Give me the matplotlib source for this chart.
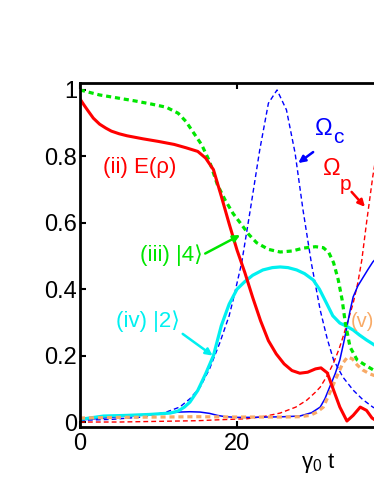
"""E(rho) and level populations with the Omega_c / Omega_p pulses"""
import matplotlib
matplotlib.use('Agg')
import matplotlib.pyplot as plt

plt.rcParams['font.family'] = ['Liberation Sans', 'DejaVu Sans']
plt.rcParams['mathtext.fontset'] = 'custom'
plt.rcParams['mathtext.rm'] = 'Liberation Sans'
plt.rcParams['mathtext.it'] = 'Liberation Sans'

RED = '#ff0000'
GREEN = '#00e600'
CYAN = '#00f0f0'
BLUE = '#0000ff'
ORANGE = '#f8aa66'

# (ii) entanglement E(rho), red solid
t_ent = [0, 0.5, 1, 1.7, 2.5, 3.3, 4, 5, 6, 8, 10, 12, 13.5, 15, 16, 17, 18, 19, 20, 21,
         22, 23, 24, 25, 26, 27, 28, 29, 30, 30.7, 31.5, 32.3, 33.1, 34, 34.8, 35.7, 36.5,
         37.2, 38]
ent = [0.973, 0.955, 0.938, 0.915, 0.897, 0.885, 0.876, 0.868, 0.862, 0.853, 0.845, 0.836,
       0.826, 0.815, 0.795, 0.76, 0.68, 0.597, 0.518, 0.45, 0.375, 0.305, 0.245, 0.205,
       0.175, 0.155, 0.147, 0.15, 0.16, 0.163, 0.148, 0.096, 0.045, 0.003, 0.02, 0.045,
       0.035, 0.012, 0.0]

# (iii) population |4>, green dotted
t_p4 = [0, 2.5, 5, 7, 9, 11, 12.5, 13.5, 14.5, 15.5, 16.5, 17.5, 18.5, 19.5, 20.5, 21.5,
        22.5, 24, 25.5, 27, 28.5, 30, 31, 31.7, 32.3, 32.9, 33.4, 33.8, 34.4, 35.3, 36.5,
        37.5, 38.5]
p4 = [1.0, 0.985, 0.975, 0.967, 0.958, 0.948, 0.93, 0.905, 0.87, 0.835, 0.785, 0.715,
      0.668, 0.628, 0.597, 0.565, 0.54, 0.52, 0.512, 0.515, 0.524, 0.528, 0.525, 0.51,
      0.48, 0.428, 0.367, 0.298, 0.226, 0.187, 0.169, 0.155, 0.15]

# (iv) population |2>, cyan solid
t_p2 = [0, 3, 6, 9, 11.5, 12.5, 13.3, 14, 15, 16, 17, 18, 19, 20, 21, 22, 23.3, 24.5,
        25.5, 26.5, 27.6, 28.6, 29.7, 30.5, 31.4, 32.2, 33.1, 34, 34.8, 35.6, 36.5, 37.5,
        38.5]
p2 = [0.008, 0.018, 0.02, 0.023, 0.027, 0.033, 0.045, 0.06, 0.095, 0.145, 0.2, 0.29,
      0.355, 0.4, 0.423, 0.442, 0.458, 0.465, 0.467, 0.465, 0.458, 0.447, 0.428, 0.4,
      0.358, 0.32, 0.298, 0.288, 0.277, 0.262, 0.247, 0.232, 0.22]

# (v) population, orange dotted
t_p3 = [0, 5, 10, 15, 20, 23, 26, 28, 29.3, 30.2, 31, 31.8, 32.7, 33.5, 34.1, 34.7, 35.3,
        36, 36.9, 37.5, 38.5]
p3 = [0.012, 0.014, 0.015, 0.016, 0.015, 0.015, 0.015, 0.016, 0.02, 0.03, 0.045, 0.087,
      0.136, 0.178, 0.196, 0.19, 0.172, 0.157, 0.145, 0.14, 0.135]

# blue solid population
t_p1 = [0, 3, 6, 9, 11, 12.7, 14, 15.3, 16.5, 17.5, 18.5, 20, 22, 24, 26, 28, 29.5, 30.6,
        31.2, 31.8, 32.5, 33.1, 33.6, 34, 34.4, 34.8, 35.4, 36.1, 36.7, 37.3, 38]
p1 = [0.006, 0.012, 0.018, 0.022, 0.027, 0.03, 0.031, 0.03, 0.026, 0.02, 0.016, 0.014,
      0.014, 0.015, 0.016, 0.018, 0.028, 0.045, 0.07, 0.105, 0.145, 0.187, 0.24, 0.286,
      0.335, 0.377, 0.41, 0.437, 0.46, 0.482, 0.5]

# coupling pulse Omega_c, blue dashed
t_oc = [0, 4, 8, 11, 12.7, 14, 15.3, 16.5, 17.8, 19, 19.5, 20.6, 21.7, 22.9, 24, 25.1,
        26.3, 27.4, 28.4, 29.5, 30.6, 31.5, 32.3, 33.5, 34.8, 36, 37.3, 38.5]
om_c = [0.005, 0.008, 0.015, 0.03, 0.045, 0.07, 0.105, 0.16, 0.238, 0.32, 0.367, 0.48,
        0.64, 0.82, 0.96, 1.0, 0.94, 0.81, 0.64, 0.475, 0.337, 0.25, 0.187, 0.135, 0.096,
        0.068, 0.045, 0.03]

# probe pulse Omega_p, red dashed
t_op = [0, 5, 10, 15, 18, 21.3, 23.5, 25.5, 27.5, 28.9, 30, 30.6, 31.5, 32.3, 33, 33.5,
        34.2, 34.8, 35.4, 35.9, 36.5, 37.3, 38, 39, 40]
om_p = [0.0, 0.0, 0.002, 0.004, 0.007, 0.01, 0.017, 0.027, 0.045, 0.066, 0.09, 0.105,
        0.14, 0.178, 0.22, 0.256, 0.31, 0.358, 0.42, 0.488, 0.6, 0.74, 0.84, 0.95, 1.0]

xticks = [0, 20]
yticks = [0, 0.2, 0.4, 0.6, 0.8, 1]
ytick_labels = ['0', '0.2', '0.4', '0.6', '0.8', '1']

fig = plt.figure(figsize=(3.74, 4.84), dpi=100)
ax = fig.add_axes([80 / 374, 57 / 484, 471 / 374, 344 / 484])

ax.plot(t_oc, om_c, color=BLUE, lw=1.0, ls=(0, (3.5, 2.2)))
ax.plot(t_op, om_p, color=RED, lw=1.0, ls=(0, (3.5, 2.2)))
ax.plot(t_p1, p1, color=BLUE, lw=1.1)
ax.plot(t_p2, p2, color=CYAN, lw=2.3)
ax.plot(t_p3, p3, color=ORANGE, lw=2.3, ls=(0, (1.6, 1.2)))
ax.plot(t_p4, p4, color=GREEN, lw=2.3, ls=(0, (1.6, 1.2)))
ax.plot(t_ent, ent, color=RED, lw=2.2)

ax.set_xlim(0, 60)
ax.set_ylim(-0.015, 1.021)
ax.set_xticks(xticks)
ax.set_yticks(yticks)
ax.set_yticklabels(ytick_labels)
ax.tick_params(direction='in', top=True, right=True, length=4, width=1.5,
               labelsize=17)
ax.tick_params(axis='y', pad=2)
ax.tick_params(axis='x', pad=4)
for s in ax.spines.values():
    s.set_linewidth(2)

ax.set_xlabel(r'$\gamma_0$ t', fontsize=16)
ax.xaxis.set_label_coords(0.505, -0.119)
ax.xaxis.label.set_va('baseline')

arr = dict(arrowstyle='-|>', lw=1.8, mutation_scale=10, shrinkA=0, shrinkB=0)

ax.text(7.64, 0.768, '(ii) E(ρ)', color=RED, fontsize=16, ha='center', va='center')
ax.annotate('(iii) |4⟩', xy=(20.4, 0.563), xytext=(11.6, 0.503), color=GREEN,
            fontsize=16, ha='center', va='center',
            arrowprops=dict(arr, color=GREEN, relpos=(1.0, 0.5)))
ax.annotate('(iv) |2⟩', xy=(16.9, 0.2), xytext=(8.66, 0.304), color=CYAN,
            fontsize=16, ha='center', va='center',
            arrowprops=dict(arr, color=CYAN, relpos=(1.0, 0.0)))
ax.text(34.55, 0.304, '(v)', color=ORANGE, fontsize=14.5, ha='left', va='center')

ax.text(29.9, 0.864, 'Ω', color=BLUE, fontsize=17, ha='left', va='baseline')
ax.text(32.2, 0.84, 'c', color=BLUE, fontsize=15, ha='left', va='baseline')
ax.annotate('', xy=(27.8, 0.78), xytext=(29.7, 0.813),
            arrowprops=dict(arr, color=BLUE))
ax.text(30.95, 0.744, 'Ω', color=RED, fontsize=17, ha='left', va='baseline')
ax.text(33.1, 0.699, 'p', color=RED, fontsize=15, ha='left', va='baseline')
ax.annotate('', xy=(36.3, 0.648), xytext=(34.6, 0.693),
            arrowprops=dict(arr, color=RED))

fig.savefig('out.png', dpi=100)
